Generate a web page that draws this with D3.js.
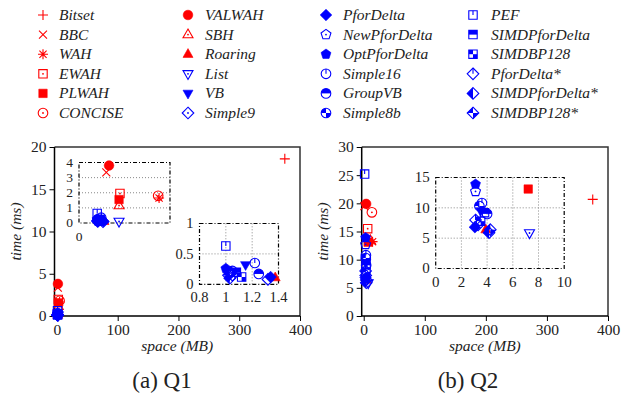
<!DOCTYPE html>
<html>
<head>
<meta charset="utf-8">
<script src="https://cdn.jsdelivr.net/npm/d3@7"></script>
<style>
  body { margin: 0; background: #fff; }
  svg text { font-family: "Liberation Serif", "Times New Roman", "DejaVu Serif", serif; fill: #222; }
</style>
</head>
<body>
<svg id="chart" width="632" height="397"></svg>
<script>
// ---- data ----
const methods = ['Bitset', 'BBC', 'WAH', 'EWAH', 'PLWAH', 'CONCISE',
    'VALWAH', 'SBH', 'Roaring', 'List', 'VB', 'Simple9',
    'PforDelta', 'NewPforDelta', 'OptPforDelta', 'Simple16', 'GroupVB', 'Simple8b',
    'PEF', 'SIMDPforDelta', 'SIMDBP128', 'PforDelta*', 'SIMDPforDelta*', 'SIMDBP128*'];

// Q1: space (MB), time (ms)
const q1Space = [375, 1.5, 4.4, 2.25, 2.2, 4.35,
    1.65, 2.2, 1.375, 2.2, 1.15, 1.05,
    1.34, 1.02, 1.0, 1.22, 1.25, 1.05,
    1.0, 1.08, 1.12, 1.32, 1.03, 1.02];
const q1Time = [18.6, 3.35, 1.65, 1.95, 1.55, 1.8,
    3.8, 1.15, 0.11, 0.1, 0.32, 0.15,
    0.12, 0.2, 0.26, 0.35, 0.17, 0.22,
    0.63, 0.2, 0.12, 0.08, 0.1, 0.15];

// Q2
const q2Space = [375, 1.0, 14.5, 6.5, 7.2, 13.4,
    4.0, 11.0, 3.9, 7.3, 3.5, 3.3,
    3.05, 3.1, 3.1, 3.6, 4.0, 3.4,
    1.5, 3.8, 3.5, 3.1, 4.15, 4.25];
const q2Time = [20.7, 19.5, 13.2, 15.5, 13.1, 18.4,
    19.9, 13.4, 6.4, 5.85, 9.5, 7.2,
    6.8, 12.7, 13.9, 10.8, 9.0, 10.3,
    25.2, 9.2, 7.8, 8.0, 5.9, 6.4];

const mainXTicks = [0, 100, 200, 300, 400];
const q1YTicks = [0, 5, 10, 15, 20];
const q2YTicks = [0, 5, 10, 15, 20, 25, 30];
const inset1YTicks = [0, 1, 2, 3, 4];
const inset1XTicks = [0];
const inset2XTicks = [0.8, 1, 1.2, 1.4];
const inset2YTicks = [0, 0.5, 1];
const inset3XTicks = [0, 2, 4, 6, 8, 10];
const inset3YTicks = [0, 5, 10, 15];

// ---- styling ----
const RED = '#ff0000', BLUE = '#0000ff';
const symbolOf = {
    'Bitset': 'plus', 'BBC': 'cross', 'WAH': 'star', 'EWAH': 'square-dot', 'PLWAH': 'square-fill',
    'CONCISE': 'circle-dot', 'VALWAH': 'circle-fill', 'SBH': 'up-dot', 'Roaring': 'up-fill',
    'List': 'down-dot', 'VB': 'down-fill', 'Simple9': 'diamond-dot', 'PforDelta': 'diamond-fill',
    'NewPforDelta': 'pent-dot', 'OptPforDelta': 'pent-fill', 'Simple16': 'circle-tick',
    'GroupVB': 'circle-half', 'Simple8b': 'circle-quad', 'PEF': 'square-tick',
    'SIMDPforDelta': 'square-half', 'SIMDBP128': 'square-quad', 'PforDelta*': 'diamond-tick',
    'SIMDPforDelta*': 'diamond-left', 'SIMDBP128*': 'diamond-quad'
};
const colorOf = name => methods.indexOf(name) <= methods.indexOf('Roaring') ? RED : BLUE;

const svg = d3.select('#chart');
const defs = svg.append('defs');

function polyPath(n, r, rot) {
    const pts = d3.range(n).map(i => {
        const a = rot + i * 2 * Math.PI / n;
        return [r * Math.sin(a), -r * Math.cos(a)];
    });
    return 'M' + pts.map(p => p[0].toFixed(2) + ',' + p[1].toFixed(2)).join('L') + 'Z';
}
const shapes = {
    square: 'M-4.2,-4.2H4.2V4.2H-4.2Z',
    circle: 'M-4.8,0A4.8,4.8 0 1,1 4.8,0A4.8,4.8 0 1,1 -4.8,0Z',
    up: 'M0,-5.6L5,3.2L-5,3.2Z',
    down: 'M0,5.6L5,-3.2L-5,-3.2Z',
    diamond: 'M0,-5.8L5.8,0L0,5.8L-5.8,0Z',
    pent: polyPath(5, 5.2, 0)
};
Object.keys(shapes).forEach(k => {
    defs.append('clipPath').attr('id', 'clip-' + k)
        .append('path').attr('d', shapes[k]);
});

function drawMarker(g, name) {
    const type = symbolOf[name], color = colorOf(name);
    const sw = 1.1;
    if (type === 'plus') {
        g.append('path').attr('d', 'M-5,0H5M0,-5V5').attr('stroke', color).attr('stroke-width', sw).attr('fill', 'none');
        return;
    }
    if (type === 'cross') {
        g.append('path').attr('d', 'M-4,-4L4,4M-4,4L4,-4').attr('stroke', color).attr('stroke-width', sw).attr('fill', 'none');
        return;
    }
    if (type === 'star') {
        g.append('path').attr('d', 'M-5,0H5M0,-5V5M-3.6,-3.6L3.6,3.6M-3.6,3.6L3.6,-3.6')
            .attr('stroke', color).attr('stroke-width', sw).attr('fill', 'none');
        return;
    }
    const [base, mode] = type.split('-');
    const d = shapes[base];
    if (mode === 'fill') {
        g.append('path').attr('d', d).attr('fill', color).attr('stroke', color).attr('stroke-width', 0.6);
        return;
    }
    const inner = g.append('g').attr('clip-path', 'url(#clip-' + base + ')');
    if (mode === 'half') {
        inner.append('rect').attr('x', -7).attr('y', -7).attr('width', 14).attr('height', 7).attr('fill', color);
    } else if (mode === 'left') {
        inner.append('rect').attr('x', -7).attr('y', -7).attr('width', 7).attr('height', 14).attr('fill', color);
    } else if (mode === 'quad') {
        inner.append('rect').attr('x', -7).attr('y', -7).attr('width', 7).attr('height', 7).attr('fill', color);
        inner.append('rect').attr('x', 0).attr('y', 0).attr('width', 7).attr('height', 7).attr('fill', color);
    }
    g.append('path').attr('d', d).attr('fill', 'none').attr('stroke', color).attr('stroke-width', sw);
    if (mode === 'dot') {
        g.append('circle').attr('r', 0.9).attr('fill', color);
    } else if (mode === 'tick') {
        const top = base === 'square' ? -4.2 : base === 'circle' ? -4.8 : -5.8;
        g.append('line').attr('x1', 0).attr('y1', 0).attr('x2', 0).attr('y2', top)
            .attr('stroke', color).attr('stroke-width', sw);
    }
}

// ---- legend ----
const legendCols = [{mx: 43, tx: 59}, {mx: 188, tx: 205}, {mx: 326, tx: 343}, {mx: 473, tx: 491}];
methods.forEach((name, i) => {
    const col = legendCols[Math.floor(i / 6)], row = i % 6;
    const y = 15 + row * 19.6;
    drawMarker(svg.append('g').attr('transform', `translate(${col.mx},${y})`), name);
    svg.append('text').attr('x', col.tx).attr('y', y + 5)
        .attr('font-size', 15.5).attr('font-style', 'italic').text(name);
});

// ---- helpers ----
function drawPoints(g, x, y, xs, ys, filter) {
    methods.forEach((name, i) => {
        const vx = xs[i], vy = ys[i];
        if (filter && !filter(vx, vy)) return;
        drawMarker(g.append('g').attr('transform', `translate(${x(vx)},${y(vy)})`), name);
    });
}

function mainPanel(opts) {
    const g = svg.append('g');
    const x = d3.scaleLinear().domain(opts.xDomain).range(opts.xRange);
    const y = d3.scaleLinear().domain(opts.yDomain).range(opts.yRange);
    const [x0, x1] = opts.xRange, [y0, y1] = opts.yRange;

    // frame
    g.append('path').attr('d', `M${x0},${y1}H${x1}V${y0}`).attr('fill', 'none')
        .attr('stroke', '#333').attr('stroke-width', 1.5);
    g.append('path').attr('d', `M${x0},${y1}V${y0}H${x1}`).attr('fill', 'none')
        .attr('stroke', '#000').attr('stroke-width', 1.5);

    const xa = g.append('g').attr('transform', `translate(0,${y0})`)
        .call(d3.axisBottom(x).tickValues(mainXTicks).tickSize(5).tickSizeOuter(0).tickFormat(d3.format('d')));
    const ya = g.append('g').attr('transform', `translate(${x0},0)`)
        .call(d3.axisLeft(y).tickValues(opts.yTicks).tickSize(5).tickSizeOuter(0).tickFormat(d3.format('d')));
    [xa, ya].forEach(a => {
        a.attr('font-family', null).attr('font-size', null);
        a.select('.domain').remove();
        a.selectAll('line').attr('stroke', '#000').attr('stroke-width', 1);
        a.selectAll('text').attr('font-size', 15.5).attr('fill', '#222');
    });
    xa.selectAll('text').attr('y', 7).attr('dy', '0.75em');
    ya.selectAll('text').attr('x', -8);

    g.append('text').attr('x', (x0 + x1) / 2).attr('y', 351).attr('text-anchor', 'middle')
        .attr('font-size', 15.5).attr('font-style', 'italic').text('space (MB)');
    g.append('text').attr('transform', `translate(${x0 - 34},${(y0 + y1) / 2}) rotate(-90)`)
        .attr('text-anchor', 'middle').attr('font-size', 15.5).attr('font-style', 'italic').text('time (ms)');
    g.append('text').attr('x', opts.captionX).attr('y', 388).attr('text-anchor', 'middle')
        .attr('font-size', 23).text(opts.caption);

    drawPoints(g, x, y, opts.xs, opts.ys);
}

function inset(opts) {
    const g = svg.append('g');
    const x = d3.scaleLinear().domain(opts.xDomain).range(opts.xRange);
    const y = d3.scaleLinear().domain(opts.yDomain).range(opts.yRange);
    const [x0, x1] = opts.xRange, [y0, y1] = opts.yRange;
    const fs = opts.fontSize || 15;
    g.append('rect').attr('x', x0).attr('y', y1).attr('width', x1 - x0).attr('height', y0 - y1).attr('fill', '#fff');

    // grid
    g.selectAll('.gx').data(opts.xGrid).join('line')
        .attr('x1', d => x(d)).attr('x2', d => x(d)).attr('y1', y0).attr('y2', y1)
        .attr('stroke', '#888').attr('stroke-width', 1).attr('stroke-dasharray', '1,2');
    g.selectAll('.gy').data(opts.yGrid).join('line')
        .attr('y1', d => y(d)).attr('y2', d => y(d)).attr('x1', x0).attr('x2', x1)
        .attr('stroke', '#888').attr('stroke-width', 1).attr('stroke-dasharray', '1,2');

    g.append('rect').attr('x', x0).attr('y', y1).attr('width', x1 - x0).attr('height', y0 - y1)
        .attr('fill', 'none').attr('stroke', '#000').attr('stroke-width', 1.2).attr('stroke-dasharray', '4,2,1,2');

    g.selectAll('.lx').data(opts.xTicks).join('text')
        .attr('x', d => x(d)).attr('y', y0 + 18).attr('text-anchor', 'middle')
        .attr('font-size', fs).text(d => d);
    g.selectAll('.ly').data(opts.yTicks).join('text')
        .attr('x', x0 - 6).attr('y', d => y(d) + fs * 0.33).attr('text-anchor', 'end')
        .attr('font-size', fs).text(d => d);

    const [dx0, dx1] = opts.xDomain, [dy0, dy1] = opts.yDomain;
    drawPoints(g, x, y, opts.xs, opts.ys, (vx, vy) => vx >= dx0 && vx <= dx1 && vy >= dy0 && vy <= dy1);
}

// ---- Q1 ----
mainPanel({
    xDomain: [-4, 400], xRange: [54.5, 300],
    yDomain: [0, 20], yRange: [316, 147],
    yTicks: q1YTicks, xs: q1Space, ys: q1Time,
    caption: '(a) Q1', captionX: 162
});
inset({
    xDomain: [0, 5], xRange: [79, 170],
    yDomain: [0, 4], yRange: [223, 162.5],
    xTicks: inset1XTicks, yTicks: inset1YTicks,
    xGrid: [], yGrid: [1, 2, 3], fontSize: 13.5,
    xs: q1Space, ys: q1Time
});
inset({
    xDomain: [0.8, 1.4], xRange: [199.5, 278.5],
    yDomain: [0, 1], yRange: [284.3, 223.5],
    xTicks: inset2XTicks, yTicks: inset2YTicks,
    xGrid: [1, 1.2], yGrid: [0.5], fontSize: 14.5,
    xs: q1Space, ys: q1Time
});

// ---- Q2 ----
mainPanel({
    xDomain: [-3.3, 400], xRange: [361.7, 608],
    yDomain: [0, 30], yRange: [316, 147],
    yTicks: q2YTicks, xs: q2Space, ys: q2Time,
    caption: '(b) Q2', captionX: 468
});
inset({
    xDomain: [0, 10], xRange: [435.7, 564.2],
    yDomain: [0, 15], yRange: [268.5, 177.5],
    xTicks: inset3XTicks, yTicks: inset3YTicks,
    xGrid: [2, 4, 6, 8], yGrid: [5, 10], fontSize: 15,
    xs: q2Space, ys: q2Time
});
</script>
</body>
</html>
